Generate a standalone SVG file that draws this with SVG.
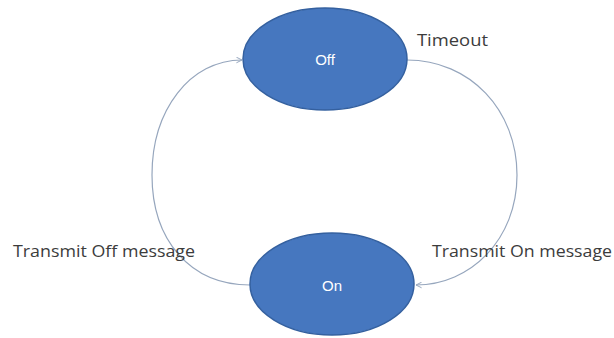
<svg xmlns="http://www.w3.org/2000/svg" width="614" height="338" viewBox="0 0 614 338">
  <style>
    .state { fill: #4677bf; stroke: #34609f; stroke-width: 1.5; }
    .state-label { font-family: "Liberation Sans", Arial, sans-serif; font-size: 15px; fill: #ffffff; text-anchor: middle; dominant-baseline: central; }
    .edge { fill: none; stroke: #96a6bd; stroke-width: 1.2; }
    .edge-label { font-family: "Open Sans", "Liberation Sans", sans-serif; font-size: 16px; fill: #3c3c3c; }
  </style>
  <defs>
    <marker id="arrow" viewBox="0 0 10 10" refX="9" refY="5" markerWidth="7" markerHeight="7" orient="auto" markerUnits="userSpaceOnUse">
      <path d="M1 1 L9 5 L1 9" fill="none" stroke="#96a6bd" stroke-width="1.4"/>
    </marker>
  </defs>
  <rect width="614" height="338" fill="#ffffff"/>

  <g id="connectors">
    <!-- On -> Off, left side -->
    <path class="edge" d="M 250 285 C 190 285, 152 240, 152 175 C 152 110, 190 60, 242 60" marker-end="url(#arrow)"/>
    <!-- Off -> On, right side -->
    <path class="edge" d="M 407 60 C 470 60, 517 110, 517 175 C 517 240, 470 285, 416 285" marker-end="url(#arrow)"/>
    <text class="edge-label" x="417" y="46" textLength="71" lengthAdjust="spacingAndGlyphs">Timeout</text>
    <text class="edge-label" x="13" y="257" textLength="182" lengthAdjust="spacingAndGlyphs">Transmit Off message</text>
    <text class="edge-label" x="432" y="257" textLength="180" lengthAdjust="spacingAndGlyphs">Transmit On message</text>
  </g>

  <g id="state-off">
    <ellipse class="state" cx="325" cy="59" rx="82" ry="51"/>
    <text class="state-label" x="325" y="59">Off</text>
  </g>

  <g id="state-on">
    <ellipse class="state" cx="332" cy="284" rx="82" ry="51"/>
    <text class="state-label" x="332" y="285">On</text>
  </g>
</svg>
